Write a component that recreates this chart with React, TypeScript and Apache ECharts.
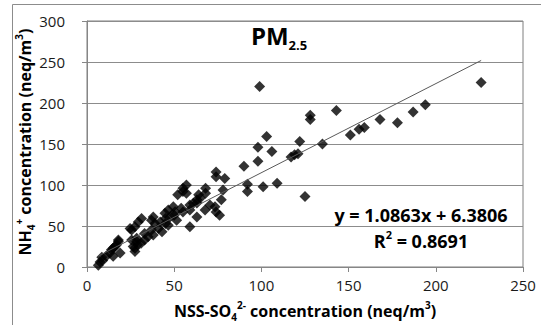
import React, { useEffect, useRef } from "react";
import * as echarts from "echarts";

const sulfate = [
  6.5, 7.5, 9, 8.5, 11, 13, 15, 14, 15, 16, 17, 18, 18, 19,
  24.7, 25.6, 26.5, 27.5, 27.5, 29, 25.6, 28.5, 28.5, 31, 27.5, 29.4, 31.3,
  33, 33, 35, 37, 38, 37, 39, 41, 43, 45, 42, 45, 38, 46.6, 46.6, 47.6, 49.5,
  50.5, 50, 51.4, 54, 55, 44.7, 52, 55, 55, 57, 57, 59, 59, 59, 61, 63, 63, 63,
  64, 65, 68, 68, 67.7, 70.5, 73.4, 74, 76, 74, 74, 79, 78, 77,
  90, 98, 92, 92, 101, 109, 125, 98, 103, 106, 99, 117, 119, 121, 122, 135,
  128, 128, 143, 151, 156, 159, 168, 178, 187, 194, 226,
];
const ammonium = [
  2, 6, 8, 12, 13, 17, 13, 21, 23, 25, 27, 31, 33, 17,
  47, 45, 25, 19, 23, 27, 33, 35, 31, 29, 49, 55, 59,
  41, 33, 37, 45, 39, 57, 53, 47, 43, 53, 55, 59, 61, 51, 69.5, 61, 73.5,
  67.5, 63, 57, 71.5, 67, 65.5, 88, 92, 96, 100, 90, 49, 75.6, 69.5, 77.6, 61, 78, 82,
  88, 84, 96, 90, 69.5, 75.6, 73.5, 67, 63, 116, 110, 108, 94, 82,
  123, 129, 101, 92, 98, 102, 86, 146, 159, 141, 220, 134, 137, 138, 153, 150,
  185, 180, 191, 161, 168, 170, 180, 176, 189, 198, 225,
];
const slope = 1.0863;
const intercept = 6.3806;
const xTicks = { min: 0, max: 250, interval: 50 };
const yTicks = { min: 0, max: 300, interval: 50 };

const FONT = "'Open Sans', 'Noto Sans', sans-serif";

export default function App() {
  const ref = useRef<HTMLDivElement>(null);
  useEffect(() => {
    if (!ref.current) return;
    const chart = echarts.init(ref.current, undefined, { renderer: "svg" });
    const points = sulfate.map((x, i) => [x, ammonium[i]]);
    const xMin = Math.min(...sulfate);
    const xMax = Math.max(...sulfate);
    const trend = [
      [xMin, slope * xMin + intercept],
      [xMax, slope * xMax + intercept],
    ];
    const main = { fontSize: 16, fontWeight: "bold", fontFamily: FONT, fill: "#000", lineHeight: 22, verticalAlign: "middle" };
    const sup = { fontSize: 10, fontWeight: "bold", fontFamily: FONT, fill: "#000", lineHeight: 10, verticalAlign: "top" };
    const sub = { fontSize: 10, fontWeight: "bold", fontFamily: FONT, fill: "#000", lineHeight: 10, verticalAlign: "bottom" };
    chart.setOption({
      animation: false,
      backgroundColor: "#fff",
      grid: { left: 87, top: 21, width: 436, height: 246, show: true, borderColor: "#7f7f7f", borderWidth: 1, backgroundColor: "transparent" },
      xAxis: {
        type: "value",
        ...xTicks,
        axisLine: { show: true, lineStyle: { color: "#868686" } },
        axisTick: { show: true, inside: false, length: 5, lineStyle: { color: "#868686" } },
        axisLabel: { color: "#1a1a1a", fontSize: 15, fontFamily: FONT, margin: 10 },
        splitLine: { show: false },
      },
      yAxis: {
        type: "value",
        ...yTicks,
        axisLine: { show: true, lineStyle: { color: "#868686" } },
        axisTick: { show: true, inside: false, length: 5, lineStyle: { color: "#868686" } },
        axisLabel: { color: "#1a1a1a", fontSize: 15, fontFamily: FONT, margin: 22 },
        splitLine: { show: true, lineStyle: { color: "#8c8c8c", width: 1 } },
      },
      series: [
        {
          type: "scatter",
          data: points,
          symbol: "diamond",
          symbolSize: [11, 11],
          itemStyle: { color: "#000" },
          z: 2,
        },
        {
          type: "line",
          data: trend,
          showSymbol: false,
          symbol: "none",
          lineStyle: { color: "#595959", width: 1 },
          z: 3,
        },
      ],
      graphic: [
        {
          type: "rect",
          silent: true,
          shape: { x: 12.5, y: 4.5, width: 700, height: 500 },
          style: { fill: "none", stroke: "#8c8c8c", lineWidth: 1 },
        },
        {
          type: "text",
          x: 279,
          y: 35,
          style: {
            text: "{a|PM}{b|2.5}",
            align: "center",
            verticalAlign: "middle",
            rich: {
              a: { fontSize: 24, fontWeight: "bold", fontFamily: FONT, fill: "#000", lineHeight: 32, verticalAlign: "middle" },
              b: { fontSize: 13, fontWeight: "bold", fontFamily: FONT, fill: "#000", lineHeight: 14, verticalAlign: "bottom" },
            },
          },
        },
        {
          type: "text",
          x: 421,
          y: 215,
          style: {
            text: "y = 1.0863x + 6.3806",
            align: "center",
            verticalAlign: "middle",
            fontSize: 18,
            fontWeight: "bold",
            fontFamily: FONT,
            fill: "#000",
          },
        },
        {
          type: "text",
          x: 421,
          y: 241,
          style: {
            text: "{a|R}{s|2}{a| = 0.8691}",
            align: "center",
            verticalAlign: "middle",
            rich: {
              a: { fontSize: 18, fontWeight: "bold", fontFamily: FONT, fill: "#000", lineHeight: 24, verticalAlign: "middle" },
              s: { fontSize: 11, fontWeight: "bold", fontFamily: FONT, fill: "#000", lineHeight: 11, verticalAlign: "top" },
            },
          },
        },
        {
          type: "text",
          x: 305,
          y: 311,
          style: {
            text: "{a|NSS-SO}{b|4}{c|2-}{a| concentration (neq/m}{c|3}{a|)}",
            align: "center",
            verticalAlign: "middle",
            rich: { a: main, b: sub, c: sup },
          },
        },
        {
          type: "text",
          x: 25,
          y: 142,
          rotation: Math.PI / 2,
          style: {
            text: "{a|NH}{b|4}{c|+}{a| concentration (neq/m}{c|3}{a|)}",
            align: "center",
            verticalAlign: "middle",
            rich: { a: main, b: sub, c: sup },
          },
        },
      ],
    });
    return () => chart.dispose();
  }, []);
  return (
    <div
      ref={ref}
      style={{ position: "absolute", left: 0, top: 0, width: 541, height: 325, background: "#fff" }}
    />
  );
}
